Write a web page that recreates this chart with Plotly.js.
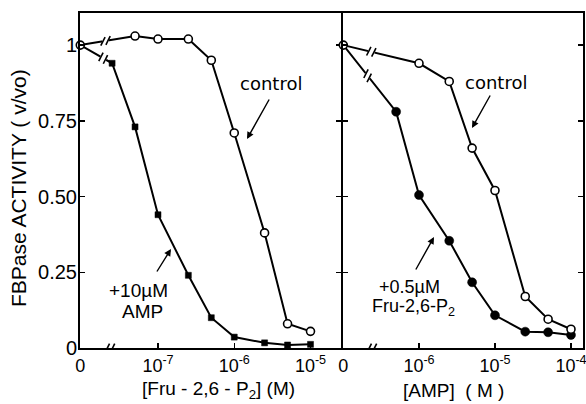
<!DOCTYPE html>
<html>
<head>
<meta charset="utf-8">
<script src="https://cdn.plot.ly/plotly-3.0.1.min.js"></script>
<style>html,body{margin:0;padding:0;background:#fff;}#chart{width:586px;height:404px;}</style>
</head>
<body>
<div id="chart"></div>
<script>
// ---- data (concentrations in M, activity v/vo) ----
const fruConcControl = [0, 5e-8, 1e-7, 2.5e-7, 5e-7, 1e-6, 2.5e-6, 5e-6, 1e-5];
const fruActControl  = [1.0, 1.03, 1.02, 1.02, 0.95, 0.71, 0.38, 0.08, 0.055];
const fruConcAMP     = [0, 2.5e-8, 5e-8, 1e-7, 2.5e-7, 5e-7, 1e-6, 2.5e-6, 5e-6, 1e-5];
const fruActAMP      = [1.0, 0.94, 0.73, 0.44, 0.24, 0.10, 0.036, 0.017, 0.01, 0.012];

const ampConcControl = [0, 1e-6, 2.5e-6, 5e-6, 1e-5, 2.5e-5, 5e-5, 1e-4];
const ampActControl  = [1.0, 0.94, 0.88, 0.66, 0.52, 0.17, 0.095, 0.062];
const ampConcFru     = [0, 5e-7, 1e-6, 2.5e-6, 5e-6, 1e-5, 2.5e-5, 5e-5, 1e-4];
const ampActFru      = [1.0, 0.78, 0.505, 0.354, 0.217, 0.108, 0.054, 0.052, 0.043];

const yTickVals = [0, 0.25, 0.5, 0.75, 1];
const yTickText = ['0', '0.25', '0.50', '0.75', '1'];
const leftTickExp = [-7, -6, -5];
const rightTickExp = [-6, -5, -4];

// ---- layout geometry ----
const W = 586, H = 404, M = {l: 80, r: 3, t: 13, b: 56};
const PW = W - M.l - M.r, PH = H - M.t - M.b;
const splitL = 261 / PW;          // left panel ends at px 341
const splitR = 263 / PW;          // right panel starts at px 343 (lines overlap at the divider)
const leftRange = [-8.023, -4.60];
const rightRange = [-7.0, -3.842];
const yRange = [0, 1.106];
const zeroL = leftRange[0] + 0.004;
const zeroR = rightRange[0] + 0.004;
const pxPerXL = splitL * PW / (leftRange[1] - leftRange[0]);
const pxPerXR = (1 - splitR) * PW / (rightRange[1] - rightRange[0]);
const pxPerY = PH / (yRange[1] - yRange[0]);

function toX(c, zero) { return c === 0 ? zero : Math.log10(c); }
function px2paperX(px) { return (px - M.l) / PW; }
function px2paperY(py) { return (H - M.b - py) / PH; }

const lineStyle = {color: '#000', width: 2};
const traces = [
  {x: fruConcAMP.map(c => toX(c, zeroL)), y: fruActAMP, xaxis: 'x', yaxis: 'y',
   mode: 'lines+markers', line: lineStyle, cliponaxis: false,
   marker: {symbol: 'square', color: '#000', opacity: 1, size: fruConcAMP.map(c => c === 0 ? 0 : 6),
            line: {color: '#000', width: 0.5}}},
  {x: fruConcControl.map(c => toX(c, zeroL)), y: fruActControl, xaxis: 'x', yaxis: 'y',
   mode: 'lines+markers', line: lineStyle, cliponaxis: false,
   marker: {symbol: 'circle', color: '#fff', opacity: 1, size: 8, line: {color: '#000', width: 1.6}}},
  {x: ampConcFru.map(c => toX(c, zeroR)), y: ampActFru, xaxis: 'x2', yaxis: 'y2',
   mode: 'lines+markers', line: lineStyle, cliponaxis: false,
   marker: {symbol: 'circle', color: '#000', opacity: 1, size: ampConcFru.map(c => c === 0 ? 0 : 9),
            line: {color: '#000', width: 0.5}}},
  {x: ampConcControl.map(c => toX(c, zeroR)), y: ampActControl, xaxis: 'x2', yaxis: 'y2',
   mode: 'lines+markers', line: lineStyle, cliponaxis: false,
   marker: {symbol: 'circle', color: '#fff', opacity: 1, size: 8, line: {color: '#000', width: 1.6}}}
];

// ---- break marks ("//") ----
function breakMarks(xref, yref, x, y, ux, uy) {
  const s = [0.45, 0.89], L = 4.8, g = 2.6;
  const out = [{type: 'line', xref, yref, xsizemode: 'pixel', ysizemode: 'pixel', xanchor: x, yanchor: y,
    x0: -g * ux * 1.3, y0: -g * uy * 1.3, x1: g * ux * 1.3, y1: g * uy * 1.3,
    line: {color: '#fff', width: 4}, layer: 'above'}];
  [-g, g].forEach(o => {
    const cx = o * ux, cy = o * uy;
    out.push({type: 'line', xref, yref, xsizemode: 'pixel', ysizemode: 'pixel', xanchor: x, yanchor: y,
      x0: cx - L * s[0], y0: cy - L * s[1], x1: cx + L * s[0], y1: cy + L * s[1],
      line: {color: '#000', width: 1.6}, layer: 'above'});
  });
  return out;
}
function segBreak(tr, frac, pxX, xref, yref) {
  const x0 = tr.x[0], y0 = tr.y[0], x1 = tr.x[1], y1 = tr.y[1];
  const dx = (x1 - x0) * pxX, dy = (y1 - y0) * pxPerY, n = Math.hypot(dx, dy);
  return breakMarks(xref, yref, x0 + frac * (x1 - x0), y0 + frac * (y1 - y0), dx / n, dy / n);
}
let shapes = [];
shapes = shapes.concat(breakMarks('x', 'y', -7.63, 0, 1, 0));
shapes = shapes.concat(breakMarks('x2', 'y2', -6.62, 0, 1, 0));
shapes = shapes.concat(segBreak(traces[1], 0.46, pxPerXL, 'x', 'y'));
shapes = shapes.concat(segBreak(traces[0], 0.72, pxPerXL, 'x', 'y'));
shapes = shapes.concat(segBreak(traces[3], 0.37, pxPerXR, 'x2', 'y2'));
shapes = shapes.concat(segBreak(traces[2], 0.46, pxPerXR, 'x2', 'y2'));

// ---- annotations ----
const F = 'Liberation Sans, Arial, sans-serif';
const FD = 'DejaVu Sans, sans-serif';
function txt(text, px, py, size, extra, fam) {
  return Object.assign({text, xref: 'paper', yref: 'paper', x: px2paperX(px), y: px2paperY(py),
    showarrow: false, xanchor: 'center', yanchor: 'middle',
    font: {family: fam || F, size, color: '#000'}}, extra || {});
}
function arrow(tail, head) {
  return {text: '', xref: 'paper', yref: 'paper', x: px2paperX(head[0]), y: px2paperY(head[1]),
    ax: tail[0] - head[0], ay: tail[1] - head[1], showarrow: true, arrowhead: 2, arrowsize: 1,
    arrowwidth: 1.4, arrowcolor: '#000'};
}
const annotations = [
  txt('control', 270.5, 83, 18, null, FD),
  txt('control', 495.5, 82, 18, null, FD),
  txt('+10µM', 138, 290, 19),
  txt('AMP', 142, 311, 19),
  txt('+0.5µM', 409.5, 287, 18),
  txt('Fru-2,6-P<sub>2</sub>', 413, 307, 18),
  arrow([270, 98], [247, 139]),
  arrow([491, 94], [472, 128]),
  arrow([156, 273], [171, 249]),
  arrow([415, 271], [434, 237]),
  txt('FBPase ACTIVITY ( v/vo)', 19, 188, 21, {textangle: -90}),
  txt('[Fru - 2,6 - P<sub>2</sub>] (M)', 218, 390, 19),
  txt('[AMP]  ( M )', 453, 390, 19)
];

const axisCommon = {showline: true, linecolor: '#000', linewidth: 2, showgrid: false, zeroline: false,
  ticks: 'inside', ticklen: 5, tickwidth: 1.5, tickcolor: '#000', ticklabeloverflow: 'allow',
  tickfont: {family: F, size: 18, color: '#000'}, fixedrange: true};

const layout = {
  width: W, height: H, margin: M, showlegend: false,
  paper_bgcolor: '#fff', plot_bgcolor: '#fff', font: {family: F, color: '#000'},
  xaxis: Object.assign({}, axisCommon, {domain: [0, splitL], range: leftRange, anchor: 'y', mirror: true,
    tickmode: 'array', tickvals: [zeroL].concat(leftTickExp),
    ticktext: ['0'].concat(leftTickExp.map(e => '10<sup>' + e + '</sup>'))}),
  xaxis2: Object.assign({}, axisCommon, {domain: [splitR, 1], range: rightRange, anchor: 'y2', mirror: true,
    tickmode: 'array', tickvals: [zeroR].concat(rightTickExp),
    ticktext: ['0'].concat(rightTickExp.map(e => '10<sup>' + e + '</sup>'))}),
  yaxis: Object.assign({}, axisCommon, {domain: [0, 1], range: yRange, anchor: 'x', mirror: 'ticks',
    tickmode: 'array', tickvals: yTickVals, ticktext: yTickText, ticklabelstandoff: -3,
    tickfont: {family: F, size: 20, color: '#000'}}),
  yaxis2: Object.assign({}, axisCommon, {domain: [0, 1], range: yRange, anchor: 'x2', matches: 'y',
    mirror: 'ticks', tickmode: 'array', tickvals: yTickVals, showticklabels: false}),
  shapes, annotations
};

Plotly.newPlot('chart', traces, layout, {staticPlot: true, displayModeBar: false});
</script>
</body>
</html>
